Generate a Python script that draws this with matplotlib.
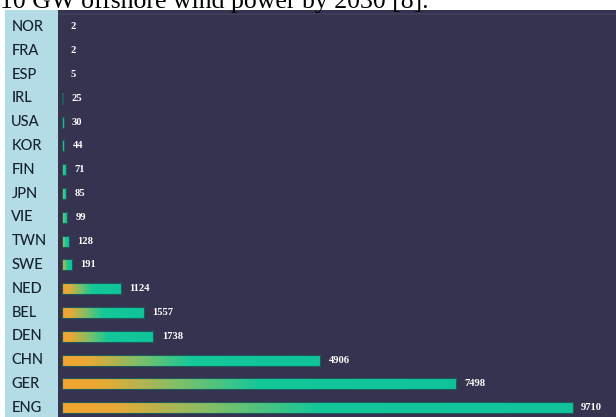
import numpy as np
import matplotlib
matplotlib.use('Agg')
import matplotlib.pyplot as plt
from matplotlib.colors import LinearSegmentedColormap
from matplotlib.patches import Rectangle

countries = ['NOR', 'FRA', 'ESP', 'IRL', 'USA', 'KOR', 'FIN', 'JPN', 'VIE',
             'TWN', 'SWE', 'NED', 'BEL', 'DEN', 'CHN', 'GER', 'ENG']
capacity = [2, 2, 5, 25, 30, 44, 71, 85, 99, 128, 191, 1124, 1557, 1738, 4906, 7498, 9710]

title = '10 GW offshore wind power by 2030 [8].'

W, H = 616, 417
BG = '#35334f'
PANEL = '#b3dce7'

grad = LinearSegmentedColormap.from_list(
    'bar', [(0, '#f2a42e'), (0.1, '#e9a935'), (0.3, '#7dc06a'), (0.5, '#14c89a'), (1, '#10c49a')])


def draw_bars(ax):
    h = 0.46
    g = np.linspace(0, 1, 256).reshape(1, -1)
    for i, v in enumerate(capacity):
        ax.annotate(str(v), (v, i), xytext=(6, 0), textcoords='offset points',
                    va='center', ha='left', color='white', fontsize=7.6,
                    family='Liberation Serif', fontweight='bold')
        # bars under 1 px wide do not show in the original
        if v < 20:
            continue
        rect = Rectangle((0, i - h / 2), v, h, facecolor='none',
                         edgecolor='#1f5a5e', linewidth=0.8, zorder=3)
        ax.add_patch(rect)
        im = ax.imshow(g, cmap=grad, aspect='auto', extent=(0, v, i + h / 2, i - h / 2),
                       interpolation='bicubic', zorder=2)
        im.set_clip_path(rect)


def main():
    fig = plt.figure(figsize=(W / 100, H / 100), dpi=100)
    fig.patch.set_facecolor('white')

    # light blue label strip
    strip = fig.add_axes([5 / W, 0, (58 - 5) / W, (H - 10) / H])
    strip.set_facecolor(PANEL)
    strip.set_xticks([])
    strip.set_yticks([])
    for s in strip.spines.values():
        s.set_visible(False)

    ax = fig.add_axes([58 / W, 0, (W - 58) / W, (H - 10) / H])
    ax.set_facecolor(BG)
    draw_bars(ax)
    ax.set_xlim(-76, 10532)
    ax.set_ylim(16.39, -0.71)
    ax.set_xticks([])
    ax.set_yticks([])
    for s in ax.spines.values():
        s.set_visible(False)
    ax.axhline(-0.56, color='#403e5e', linewidth=1.2)

    strip.set_ylim(16.39, -0.71)
    strip.set_xlim(0, 1)
    for i, c in enumerate(countries):
        strip.text(0.12, i, c, va='center', ha='left', color='#17222e',
                   fontsize=10.5, family='Lato', fontweight='medium')

    fig.text(0, 1 - 8 / H, title, ha='left', va='baseline', fontsize=18.5,
             family='Liberation Serif', color='black')

    fig.savefig('out.png', dpi=100)


if __name__ == '__main__':
    main()
